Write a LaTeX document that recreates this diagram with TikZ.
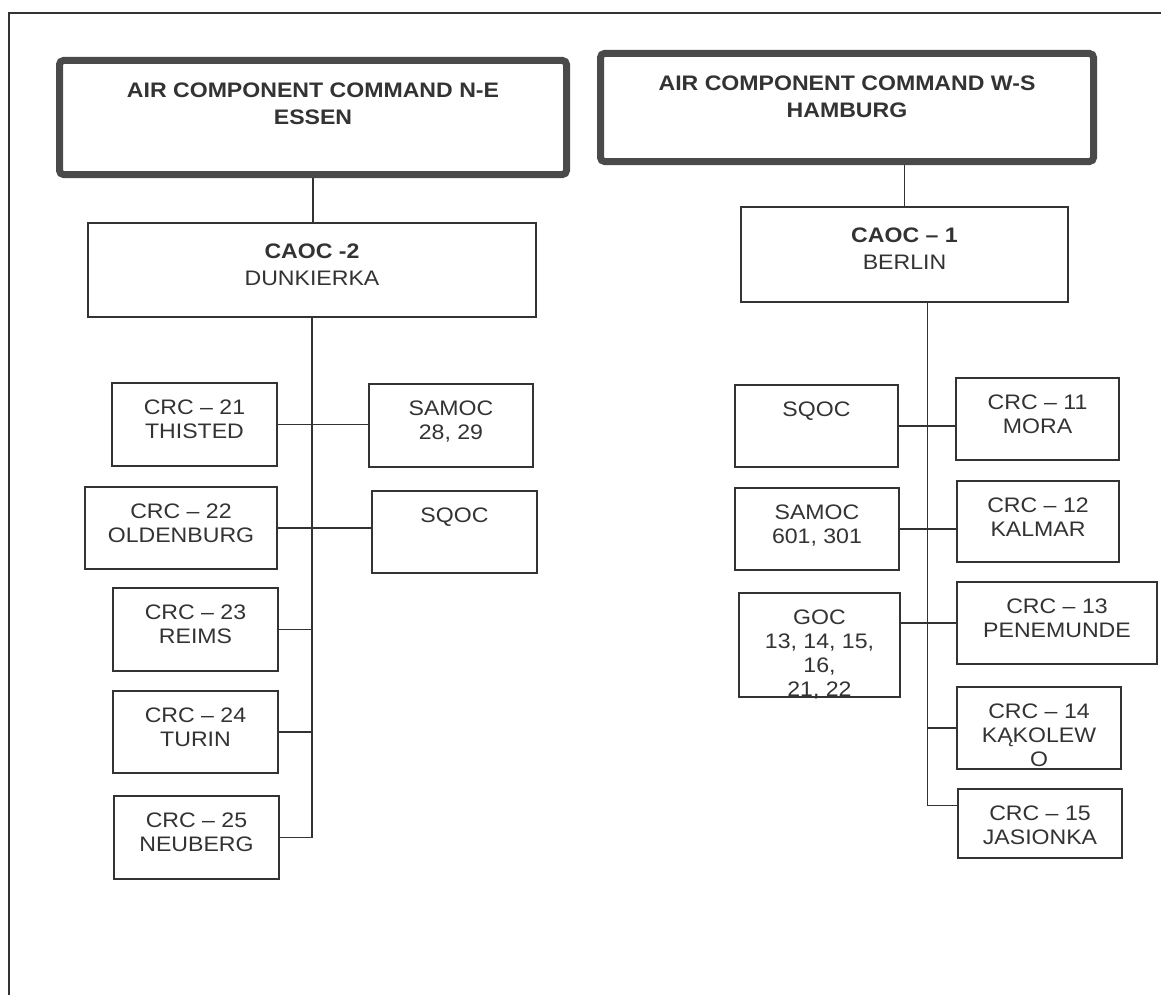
\documentclass[tikz,border=0pt]{standalone}
\usepackage{fontspec}
\setmainfont{Liberation Sans}[FakeStretch=1.1]
\definecolor{ink}{HTML}{333333}
\definecolor{rim}{HTML}{4A4A4A}
\newcommand{\chartsize}{\fontsize{10.5pt}{12pt}\selectfont}
\tikzset{
  box/.style n args={4}{draw=ink, line width=0.7pt, inner sep=0pt, text=ink,
    execute at begin node={\begin{minipage}[c][#2][t]{#1}\centering\baselineskip=#4\rule{0pt}{#3}},
    execute at end node={\end{minipage}}},
  cell/.style 2 args={box={#1}{#2}{15.5pt}{12pt}},
  caoc/.style 2 args={box={#1}{#2}{17.5pt}{13.5pt}},
  command/.style 2 args={box={#1}{#2}{18.5pt}{13.5pt}, draw=rim, line width=3.5pt, rounded corners=2pt, font=\chartsize\bfseries},
  link/.style={draw=ink, line width=0.7pt},
}
\begin{document}
\begin{tikzpicture}[x=0.5pt, y=-0.5pt, font=\chartsize]
\path[use as bounding box, fill=white] (0,0) rectangle (1161,995);
\draw[ink, line width=0.8pt] (9,995) -- (9,13) -- (1161,13);

\node[command={253.5pt}{57pt}] (accNE) at (313,117.5) {AIR COMPONENT COMMAND N-E\\ESSEN};
\node[command={246.5pt}{54pt}] (accWS) at (847,107.5) {AIR COMPONENT COMMAND W-S\\HAMBURG};
\node[caoc={224pt}{47pt}] (caoc2) at (312,270) {\textbf{CAOC -2}\\DUNKIERKA};
\node[caoc={163.5pt}{47.5pt}] (caoc1) at (904.5,254.5) {\textbf{CAOC – 1}\\BERLIN};

% left wing
\node[cell={82.5pt}{41.5pt}] (crc21) at (194.5,424.5) {CRC – 21\\THISTED};
\node[cell={82pt}{41.5pt}] (samoc28) at (451,425.5) {SAMOC\\28, 29};
\node[cell={96pt}{41pt}] (crc22) at (181,528) {CRC – 22\\OLDENBURG};
\node[cell={82.5pt}{41pt}] (sqocL) at (454.5,532) {SQOC};
\node[cell={82.5pt}{41.5pt}] (crc23) at (195.5,629.5) {CRC – 23\\REIMS};
\node[cell={82.5pt}{41pt}] (crc24) at (195.5,732) {CRC – 24\\TURIN};
\node[cell={82.5pt}{41.5pt}] (crc25) at (196.5,837.5) {CRC – 25\\NEUBERG};

% right wing
\node[cell={81.5pt}{41pt}] (sqocR) at (816.5,426) {SQOC};
\node[cell={81.5pt}{41pt}] (crc11) at (1037.5,419) {CRC – 11\\MORA};
\node[cell={82pt}{41pt}] (samocR) at (817,529) {SAMOC\\601, 301};
\node[cell={81pt}{40.5pt}] (crc12) at (1038,521.5) {CRC – 12\\KALMAR};
\node[cell={80.5pt}{52pt}] (goc) at (819.5,645) {GOC\\13, 14, 15,\\16,\\21, 22};
\node[cell={100pt}{41pt}] (crc13) at (1057,623) {CRC – 13\\PENEMUNDE};
\node[cell={82pt}{41pt}] (crc14) at (1039,728) {CRC – 14\\KĄKOLEW\\O};
\node[cell={82pt}{34.5pt}] (crc15) at (1040,823.5) {CRC – 15\\JASIONKA};

\draw[link] (accNE.south) -- (accNE.south |- caoc2.north);
\draw[link] (caoc1.north) -- (caoc1.north |- accWS.south);

\draw[link] (caoc2.south) |- (crc25.east);
\draw[link] (crc21.east) -- (crc21.east -| samoc28.west);
\draw[link] (crc22.east) -- (crc22.east -| sqocL.west);
\draw[link] (crc23.east) -- (crc23.east -| caoc2.south);
\draw[link] (crc24.east) -- (crc24.east -| caoc2.south);

\coordinate (spine) at ([xshift=11.5pt]caoc1.south);
\draw[link] (spine) |- ([yshift=9pt]crc15.west);
\draw[link] (sqocR.east) -- (sqocR.east -| crc11.west);
\draw[link] (samocR.east) -- (samocR.east -| crc12.west);
\draw[link] (crc13.west -| goc.east) -- (crc13.west);
\draw[link] (crc14.west) -- (crc14.west -| spine);
\end{tikzpicture}
\end{document}
